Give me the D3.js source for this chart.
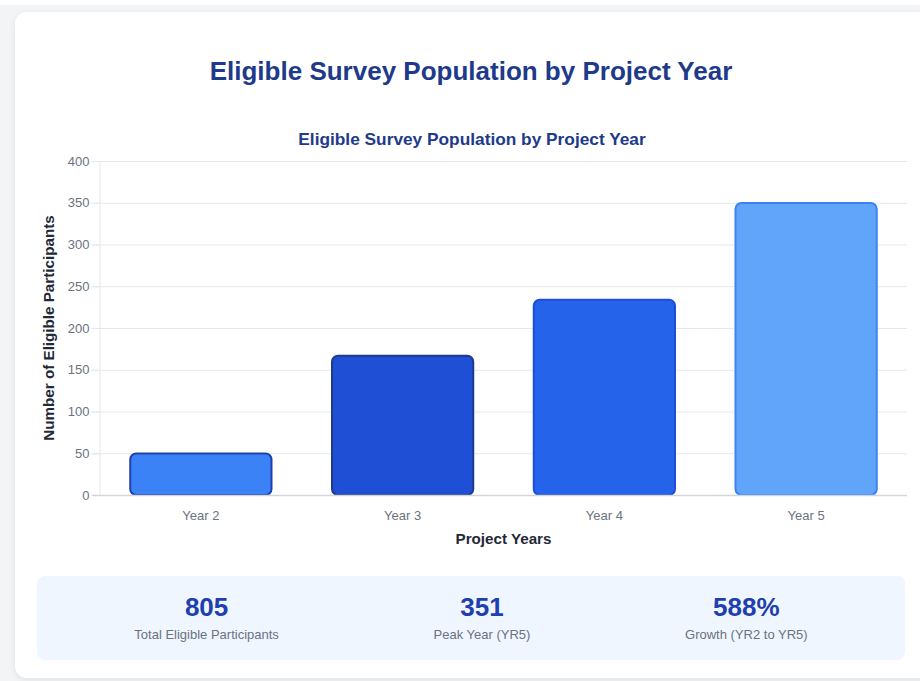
<!DOCTYPE html>
<html>
<head>
<meta charset="utf-8">
<script src="https://cdn.jsdelivr.net/npm/d3@7"></script>
<style>
  html, body { margin: 0; padding: 0; background: #ffffff; }
  svg { display: block; font-family: "Liberation Sans", Arial, Helvetica, sans-serif; }
</style>
</head>
<body>
<svg id="chart" width="920" height="681"></svg>
<script>
// Eligible survey population per project year
const years = ["Year 2", "Year 3", "Year 4", "Year 5"];
const participants = [51, 168, 235, 351];
const yTicks = [0, 50, 100, 150, 200, 250, 300, 350, 400];
const barFills = ["#3b82f6", "#1f4fd4", "#2563eb", "#60a5fa"];
const barStrokes = ["#1e40af", "#1e3a8a", "#1d4ed8", "#3b82f6"];

const titleText = "Eligible Survey Population by Project Year";

const svg = d3.select("#chart");

// page background and card
svg.append("rect").attr("x", 0).attr("y", 5).attr("width", 920).attr("height", 676).attr("fill", "#f3f4f6");
const defs = svg.append("defs");
const f = defs.append("filter").attr("id", "cardShadow").attr("x", "-5%").attr("y", "-5%").attr("width", "110%").attr("height", "110%");
f.append("feDropShadow").attr("dx", 0).attr("dy", 2).attr("stdDeviation", 3).attr("flood-color", "#000").attr("flood-opacity", 0.08);
svg.append("rect").attr("x", 15).attr("y", 12).attr("width", 940).attr("height", 666)
  .attr("rx", 12).attr("fill", "#ffffff").attr("filter", "url(#cardShadow)");

// headline
svg.append("text").attr("x", 471).attr("y", 80).attr("text-anchor", "middle")
  .attr("font-size", 26).attr("font-weight", "bold").attr("fill", "#1e3a8a").text(titleText);

// chart title
svg.append("text").attr("x", 472).attr("y", 145).attr("text-anchor", "middle")
  .attr("font-size", 17.3).attr("font-weight", "bold").attr("fill", "#1e3a8a").text(titleText);

const plot = { left: 100, right: 907, top: 161, bottom: 495 };

const x = d3.scaleBand().domain(years).range([plot.left, plot.right])
  .paddingInner(0.29).paddingOuter(0.145);
const y = d3.scaleLinear().domain([0, 400]).range([plot.bottom, plot.top]);

// horizontal grid
const grid = svg.append("g");
grid.selectAll("line").data(yTicks.filter(t => t > 0)).join("line")
  .attr("x1", plot.left - 8).attr("x2", plot.right)
  .attr("y1", d => y(d) + 0.5).attr("y2", d => y(d) + 0.5)
  .attr("stroke", "#e5e7eb").attr("stroke-width", 1);

// y axis
const yAxis = d3.axisLeft(y).tickValues(yTicks).tickSize(0).tickPadding(10);
const gy = svg.append("g").attr("transform", `translate(${plot.left - 0.5},0)`).call(yAxis);
gy.select(".domain").attr("stroke", "#e5e7eb");
gy.selectAll("text").attr("font-size", 13).attr("fill", "#6b7280").attr("font-family", "Liberation Sans, Arial, sans-serif");
gy.selectAll(".tick").append("line").attr("x1", -8).attr("x2", 0).attr("stroke", "#e5e7eb");

// bars
svg.append("g").selectAll("rect").data(participants).join("rect")
  .attr("x", (d, i) => x(years[i]) + 1)
  .attr("y", d => y(d) + 1)
  .attr("width", x.bandwidth() - 2)
  .attr("height", d => plot.bottom - y(d) - 1)
  .attr("rx", 6)
  .attr("fill", (d, i) => barFills[i])
  .attr("stroke", (d, i) => barStrokes[i])
  .attr("stroke-width", 2);

// x axis
const xAxis = d3.axisBottom(x).tickSize(0).tickPadding(15);
const gx = svg.append("g").attr("transform", `translate(0,${plot.bottom + 0.5})`).call(xAxis);
gx.select(".domain").attr("stroke", "#d1d5db").attr("stroke-width", 1.5).attr("d", `M${plot.left - 8},0H${plot.right}`);
gx.selectAll("text").attr("font-size", 13).attr("fill", "#6b7280").attr("font-family", "Liberation Sans, Arial, sans-serif");

// axis titles
svg.append("text").attr("x", (plot.left + plot.right) / 2).attr("y", 544).attr("text-anchor", "middle")
  .attr("font-size", 15.2).attr("font-weight", "bold").attr("fill", "#1f2937").text("Project Years");
svg.append("text").attr("transform", `translate(54,${(plot.top + plot.bottom) / 2}) rotate(-90)`)
  .attr("text-anchor", "middle").attr("font-size", 15.2).attr("font-weight", "bold").attr("fill", "#1f2937")
  .text("Number of Eligible Participants");

// summary panel
const total = d3.sum(participants);
const peak = d3.max(participants);
const growth = Math.round((participants[participants.length - 1] - participants[0]) / participants[0] * 100);
const stats = [
  { value: String(total), label: "Total Eligible Participants" },
  { value: String(peak), label: "Peak Year (YR5)" },
  { value: growth + "%", label: "Growth (YR2 to YR5)" }
];
const panel = { x: 37, y: 576, w: 868, h: 84 };
svg.append("rect").attr("x", panel.x).attr("y", panel.y).attr("width", panel.w).attr("height", panel.h)
  .attr("rx", 8).attr("fill", "#eff6ff");

// space-around layout of the three figures inside the panel
const pad = 20;
const labelWidths = stats.map(s => {
  const t = svg.append("text").attr("font-size", 13).text(s.label);
  const w = t.node().getComputedTextLength();
  t.remove();
  return w;
});
const free = panel.w - 2 * pad - d3.sum(labelWidths);
const gap = free / stats.length;
let cursor = panel.x + pad;
const centers = labelWidths.map(w => { const c = cursor + gap / 2 + w / 2; cursor += gap + w; return c; });

const sg = svg.append("g").selectAll("g").data(stats).join("g");
sg.append("text").attr("x", (d, i) => centers[i]).attr("y", 616).attr("text-anchor", "middle")
  .attr("font-size", 26).attr("font-weight", "bold").attr("fill", "#1e40af").text(d => d.value);
sg.append("text").attr("x", (d, i) => centers[i]).attr("y", 639).attr("text-anchor", "middle")
  .attr("font-size", 13).attr("fill", "#6b7280").text(d => d.label);
</script>
</body>
</html>
